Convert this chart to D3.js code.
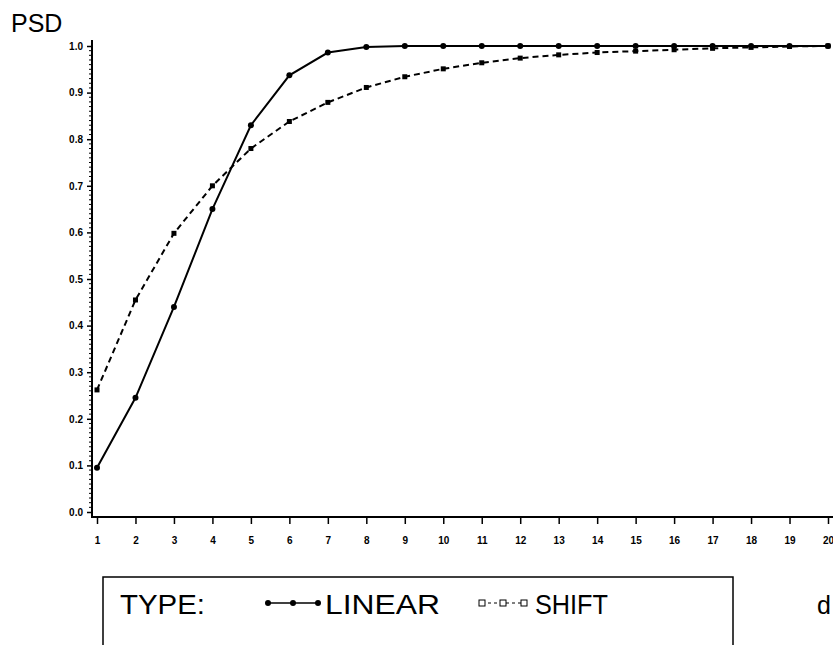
<!DOCTYPE html>
<html>
<head>
<meta charset="utf-8">
<script src="https://cdn.jsdelivr.net/npm/d3@7"></script>
<style>
  html, body { margin: 0; padding: 0; background: #fff; }
  svg { display: block; font-family: "Liberation Sans", Arial, sans-serif; }
</style>
</head>
<body>
<svg id="chart" width="833" height="645"></svg>
<script>
// Distance d (1..20) and PSD values for the two types
const dValues = d3.range(1, 21);
const linearPSD = [0.095, 0.245, 0.44, 0.65, 0.83, 0.937, 0.986, 0.998, 1.0, 1.0,
                   1.0, 1.0, 1.0, 1.0, 1.0, 1.0, 1.0, 1.0, 1.0, 1.0];
const shiftPSD  = [0.262, 0.455, 0.598, 0.70, 0.78, 0.838, 0.879, 0.911, 0.934, 0.951,
                   0.964, 0.974, 0.981, 0.986, 0.989, 0.992, 0.995, 0.997, 0.999, 1.0];
const yTicks = [0.0, 0.1, 0.2, 0.3, 0.4, 0.5, 0.6, 0.7, 0.8, 0.9, 1.0];
const legendTitle = "TYPE:";
const seriesNames = ["LINEAR", "SHIFT"];

const svg = d3.select("#chart");

const x = d3.scaleLinear().domain([1, 20]).range([97, 828]);
const y = d3.scaleLinear().domain([0, 1]).range([512, 46]);
const axisY0 = 517;   // x-axis baseline
const axisX0 = 92;    // y-axis position

// Axis lines
svg.append("line").attr("x1", axisX0).attr("x2", 833)
  .attr("y1", axisY0).attr("y2", axisY0)
  .attr("stroke", "#000").attr("stroke-width", 2);
svg.append("line").attr("x1", axisX0).attr("x2", axisX0)
  .attr("y1", 40).attr("y2", axisY0 + 1)
  .attr("stroke", "#000").attr("stroke-width", 2);

// Y axis: major ticks with labels, minor ticks every 0.01
const yAxis = d3.axisLeft(y).tickValues(yTicks).tickFormat(d3.format(".1f"))
  .tickSize(5).tickPadding(4);
const gy = svg.append("g").attr("transform", `translate(${axisX0},0)`).call(yAxis);
gy.select(".domain").remove();
gy.selectAll(".tick line").attr("stroke", "#000").attr("stroke-width", 1.5);
gy.selectAll(".tick text").attr("font-size", 10).attr("font-weight", "bold").attr("fill", "#000");

const minor = d3.range(0, 101).filter(i => i % 10 !== 0).map(i => i / 100);
svg.append("g").selectAll("line").data(minor).join("line")
  .attr("x1", axisX0 - 3).attr("x2", axisX0)
  .attr("y1", d => y(d)).attr("y2", d => y(d))
  .attr("stroke", "#000").attr("stroke-width", 1);

// X axis ticks and labels
const xAxis = d3.axisBottom(x).tickValues(dValues).tickFormat(d3.format("d"))
  .tickSize(6).tickPadding(13);
const gx = svg.append("g").attr("transform", `translate(0,${axisY0 + 1})`).call(xAxis);
gx.select(".domain").remove();
gx.selectAll(".tick line").attr("stroke", "#000").attr("stroke-width", 1.5);
gx.selectAll(".tick text").attr("font-size", 10).attr("font-weight", "bold").attr("fill", "#000");

// Axis titles
svg.append("text").attr("x", 11).attr("y", 32).attr("font-size", 25)
  .attr("fill", "#000").text("PSD");
svg.append("text").attr("x", 817).attr("y", 614).attr("font-size", 25)
  .attr("fill", "#000").text("d");

// Series
const line = d3.line().x((d, i) => x(dValues[i])).y(d => y(d));

svg.append("path").datum(shiftPSD).attr("d", line)
  .attr("fill", "none").attr("stroke", "#000").attr("stroke-width", 2)
  .attr("stroke-dasharray", "6,4");
svg.append("g").selectAll("rect").data(shiftPSD).join("rect")
  .attr("x", (d, i) => x(dValues[i]) - 2.5).attr("y", d => y(d) - 2.5)
  .attr("width", 5).attr("height", 5).attr("fill", "#000");

svg.append("path").datum(linearPSD).attr("d", line)
  .attr("fill", "none").attr("stroke", "#000").attr("stroke-width", 2);
svg.append("g").selectAll("circle").data(linearPSD).join("circle")
  .attr("cx", (d, i) => x(dValues[i])).attr("cy", d => y(d))
  .attr("r", 3).attr("fill", "#000");

// Legend
const lg = svg.append("g");
lg.append("rect").attr("x", 103).attr("y", 577).attr("width", 630).attr("height", 90)
  .attr("fill", "none").attr("stroke", "#000").attr("stroke-width", 1.5);
lg.append("text").attr("x", 120).attr("y", 614).attr("font-size", 28)
  .attr("textLength", 85).attr("lengthAdjust", "spacingAndGlyphs").text(legendTitle);

// LINEAR symbol
const linSym = [268, 293, 318];
lg.append("line").attr("x1", linSym[0]).attr("x2", linSym[2]).attr("y1", 603).attr("y2", 603)
  .attr("stroke", "#000").attr("stroke-width", 1.5);
lg.selectAll("circle.ls").data(linSym).join("circle").attr("class", "ls")
  .attr("cx", d => d).attr("cy", 603).attr("r", 3).attr("fill", "#000");
lg.append("text").attr("x", 325).attr("y", 614).attr("font-size", 28)
  .attr("textLength", 115).attr("lengthAdjust", "spacingAndGlyphs").text(seriesNames[0]);

// SHIFT symbol
const shSym = [482, 503, 524];
lg.append("line").attr("x1", shSym[0]).attr("x2", shSym[2]).attr("y1", 603).attr("y2", 603)
  .attr("stroke", "#000").attr("stroke-width", 1).attr("stroke-dasharray", "3,3");
lg.selectAll("rect.ss").data(shSym).join("rect").attr("class", "ss")
  .attr("x", d => d - 3).attr("y", 600).attr("width", 6).attr("height", 6)
  .attr("fill", "#fff").attr("stroke", "#000").attr("stroke-width", 1);
lg.append("text").attr("x", 535).attr("y", 614).attr("font-size", 28)
  .attr("textLength", 73).attr("lengthAdjust", "spacingAndGlyphs").text(seriesNames[1]);
</script>
</body>
</html>
